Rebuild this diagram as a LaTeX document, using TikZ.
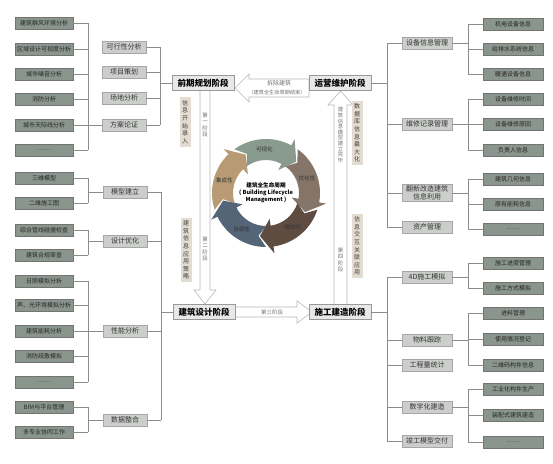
\documentclass[tikz,border=0pt]{standalone}
\usepackage{fontspec}
\setmainfont{Noto Sans CJK SC}
\usetikzlibrary{shadows}
\definecolor{leafc}{HTML}{8A958E}
\definecolor{midc}{HTML}{CBCECB}
\definecolor{stagec}{HTML}{E8E8E8}
\definecolor{tagc}{HTML}{E3DCD1}
\definecolor{linec}{HTML}{8C8C8C}
\definecolor{arrc}{HTML}{B8B8B8}
\definecolor{segA}{HTML}{B89B74}
\definecolor{segB}{HTML}{889B8D}
\definecolor{segC}{HTML}{857569}
\definecolor{segD}{HTML}{5F4C41}
\definecolor{segE}{HTML}{536577}
\tikzset{
  leaf/.style={draw=black!55, fill=leafc, text=black!85, minimum width=58pt,
    minimum height=12.5pt, inner sep=1pt, font=\fontsize{6}{7}\selectfont,
    drop shadow={shadow xshift=0.8pt, shadow yshift=-0.8pt, fill=black!30}},
  mid/.style={draw=black!35, fill=midc, text=black!80, minimum width=44pt,
    minimum height=12.5pt, inner sep=1pt, font=\fontsize{7}{8}\selectfont,
    drop shadow={shadow xshift=0.8pt, shadow yshift=-0.8pt, fill=black!25}},
  stage/.style={draw=black!40, fill=stagec, minimum width=62pt, minimum height=15pt,
    inner sep=1pt, font=\fontsize{8.5}{9}\selectfont\bfseries,
    drop shadow={shadow xshift=0.8pt, shadow yshift=-0.8pt, fill=black!25}},
  tag/.style={fill=tagc, text=black!75, align=center, inner xsep=2.5pt, inner ysep=3pt,
    font=\fontsize{6}{7.6}\selectfont},
  steplbl/.style={text=black!55, align=center, inner sep=0.5pt, font=\fontsize{5.5}{6.6}\selectfont},
  bigarrow/.style={draw=arrc, fill=white, line width=0.6pt},
  conn/.style={draw=linec, line width=0.8pt},
  seglbl/.style={text=black!80, inner sep=0pt, font=\fontsize{5.5}{6}\selectfont}
}
\begin{document}
\begin{tikzpicture}[x=1pt,y=-1pt]
  \useasboundingbox (0,0) rectangle (553,463);

  % stage arrows
  \draw[bigarrow] (309,79) -- (249,79) -- (249,74) -- (235,88) -- (249,102) -- (249,97) -- (309,97) -- cycle;
  \draw[bigarrow] (200,88) -- (200,290) -- (194,290) -- (205,304) -- (216,290) -- (210,290) -- (210,88) -- cycle;
  \draw[bigarrow] (232,307) -- (297,307) -- (297,301) -- (312,312) -- (297,323) -- (297,317) -- (232,317) -- cycle;
  \draw[bigarrow] (334,308) -- (334,105) -- (328,105) -- (340.5,91) -- (353,105) -- (347,105) -- (347,308) -- cycle;

  \node[steplbl] (st1) at (205,125) {第\\一\\阶\\段};
  \node[steplbl] (st2) at (205,249) {第\\二\\阶\\段};
  \node[steplbl] (st3) at (272,312) {第三阶段};
  \node[steplbl] (st4) at (340.5,260) {第\\四\\阶\\段};
  \node[steplbl, font=\fontsize{5.3}{5.6}\selectfont] (st5) at (340.5,135) {建\\筑\\信\\息\\模\\型\\建\\立\\完\\毕};
  \node[steplbl, font=\fontsize{6}{7}\selectfont] (end1) at (279,83) {拆除建筑};
  \node[steplbl, font=\fontsize{5.2}{6}\selectfont] (end2) at (277,93) {（建筑全生命周期结束）};

  % stages
  \node[stage] (s1) at (203,83) {前期规划阶段};
  \node[stage] (s4) at (340,83) {运营维护阶段};
  \node[stage] (s2) at (204,312) {建筑设计阶段};
  \node[stage] (s3) at (340,312) {施工建造阶段};

  \node[tag] (t1) at (185,122) {信\\息\\开\\始\\录\\入};
  \node[tag] (t2) at (186,250) {建\\筑\\信\\息\\应\\用\\策\\略};
  \node[tag] (t3) at (357,133) {数\\据\\库\\信\\息\\最\\大\\化};
  \node[tag] (t4) at (357,246) {信\\息\\交\\互\\关\\联\\应\\用};

  % lifecycle ring
  \begin{scope}[shift={(266,193)}, yscale=-1]
    \foreach \a/\e/\c/\m/\t in {198/118/segA/163/集成性, 126/46/segB/92/可视化,
                                54/-26/segC/20/优化性, -18/-98/segD/-52/模拟性,
                                -90/-170/segE/-124/协调性}{
      \fill[\c] (\a:54) arc[start angle=\a, end angle=\e+16, radius=54]
        -- ({\e+16}:61) -- (\e:43.5) -- ({\e+16}:26) -- ({\e+16}:33)
        arc[start angle=\e+16, end angle=\a, radius=33] -- ({\a-10}:43.5) -- cycle;
      \node[seglbl] at (\m:43.5) {\t};
    }
    \node[align=center, inner sep=0pt, font=\fontsize{5.6}{6.8}\selectfont\bfseries] (blm) at (0,0)
      {建筑全生命周期\\( Building Lifecycle\\Management )};
  \end{scope}

  % early planning
  \foreach \n/\y/\t in {a1/23/建筑群风环境分析, a2/49/区域设计可视度分析, a3/74/城市噪音分析,
                        a4/99/消防分析, a5/125/城市天际线分析, a6/150/……}
    \node[leaf] (\n) at (44,\y) {\t};
  \foreach \n/\y/\t in {p1/47/可行性分析, p2/72/项目策划, p3/98/场地分析, p4/125/方案论证}
    \node[mid] (\n) at (124,\y) {\t};
  \coordinate (la) at (88,0);
  \coordinate (lp) at (160,0);
  \foreach \i in {1,...,6} \draw[conn] (a\i.east) -- (a\i.east -| la);
  \draw[conn] (a1.east -| la) -- (a6.east -| la);
  \draw[conn] (p4.west) -- (p4.west -| la);
  \foreach \i in {1,...,4} \draw[conn] (p\i.east) -- (p\i.east -| lp);
  \draw[conn] (p1.east -| lp) -- (p4.east -| lp);
  \draw[conn] (s1.west) -- (s1.west -| lp);

  % design
  \foreach \n/\y/\t in {b1/178/三维模型, b2/203/二维施工图, b3/230/综合管线碰撞检查,
                        b4/255/建筑合规审查, b5/281/日照模拟分析, b6/305/声、光环境模拟分析,
                        b7/331/建筑能耗分析, b8/356/消防疏散模拟, b9/382/……,
                        b10/407/BIM与平台管理, b11/432/多专业协同工作}
    \node[leaf] (\n) at (44,\y) {\t};
  \foreach \n/\y/\t in {d1/192/模型建立, d2/241/设计优化, d3/331/性能分析, d4/420/数据整合}
    \node[mid] (\n) at (125,\y) {\t};
  \coordinate (lb) at (88,0);
  \coordinate (ld) at (161,0);
  \foreach \i in {1,...,11} \draw[conn] (b\i.east) -- (b\i.east -| lb);
  \foreach \f/\l/\m in {1/2/1, 3/4/2, 5/9/3, 10/11/4}{
    \draw[conn] (b\f.east -| lb) -- (b\l.east -| lb);
    \draw[conn] (d\m.west) -- (d\m.west -| lb);
  }
  \foreach \i in {1,...,4} \draw[conn] (d\i.east) -- (d\i.east -| ld);
  \draw[conn] (d1.east -| ld) -- (d4.east -| ld);
  \draw[conn] (s2.west) -- (s2.west -| ld);

  % operation
  \foreach \n/\y/\t in {m1/43/设备信息管理, m2/124/维修记录管理, m4/227/资产管理}
    \node[mid, minimum width=50pt] (\n) at (427,\y) {\t};
  \node[mid, minimum width=50pt, align=center, font=\fontsize{7}{8.5}\selectfont] (m3) at (427,193)
    {翻新改造建筑\\信息利用};
  \foreach \n/\y/\t in {r1/24/机电设备信息, r2/49/给排水系统信息, r3/74/暖通设备信息,
                        r4/99/设备维修时间, r5/124/设备维修原因, r6/150/负责人信息,
                        r7/179/建筑几何信息, r8/204/原有能耗信息, r9/229/……}
    \node[leaf, minimum width=60pt] (\n) at (513,\y) {\t};
  \coordinate (rm) at (387,0);
  \coordinate (rl) at (468,0);
  \foreach \i in {1,...,4} \draw[conn] (m\i.west) -- (m\i.west -| rm);
  \draw[conn] (m1.west -| rm) -- (m4.west -| rm);
  \draw[conn] (s4.east) -- (s4.east -| rm);
  \foreach \i in {1,...,9} \draw[conn] (r\i.west) -- (r\i.west -| rl);
  \foreach \f/\l/\m in {1/3/1, 4/6/2, 7/9/3}{
    \draw[conn] (r\f.west -| rl) -- (r\l.west -| rl);
    \draw[conn] (m\m.east) -- (m\m.east -| rl);
  }

  % construction
  \foreach \n/\y/\t in {c1/277/4D施工模拟, c2/340/物料跟踪, c3/365/工程量统计,
                        c4/407/数字化建造, c5/441/竣工模型交付}
    \node[mid, minimum width=50pt] (\n) at (427,\y) {\t};
  \foreach \n/\y/\t in {e1/263/施工进度管理, e2/288/施工方式模拟, e3/313/进料管理,
                        e4/339/使用情况登记, e5/365/二维码构件信息, e6/389/工业化构件生产,
                        e7/415/装配式建筑建造, e8/442/……}
    \node[leaf, minimum width=60pt] (\n) at (513,\y) {\t};
  \coordinate (rc) at (387,0);
  \coordinate (re) at (468,0);
  \foreach \i in {1,...,5} \draw[conn] (c\i.west) -- (c\i.west -| rc);
  \draw[conn] (c1.west -| rc) -- (c5.west -| rc);
  \draw[conn] (s3.east) -- (s3.east -| rc);
  \foreach \i in {1,...,8} \draw[conn] (e\i.west) -- (e\i.west -| re);
  \foreach \f/\l/\m in {1/2/1, 3/5/2, 6/8/4}{
    \draw[conn] (e\f.west -| re) -- (e\l.west -| re);
    \draw[conn] (c\m.east) -- (c\m.east -| re);
  }
\end{tikzpicture}
\end{document}
